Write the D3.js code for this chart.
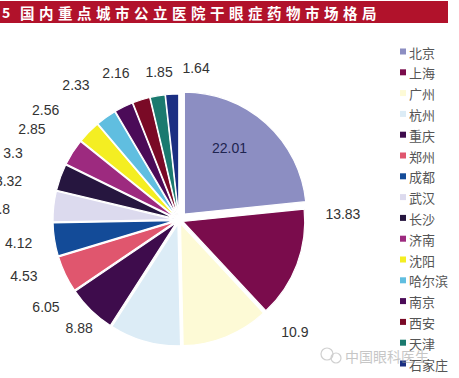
<!DOCTYPE html>
<html><head><meta charset="utf-8">
<script src="https://cdn.jsdelivr.net/npm/d3@7"></script>
<style>
html,body{margin:0;padding:0;background:#fff;}
svg{display:block;}
</style></head>
<body>
<script>
// ---- data ----
const cities = ["北京","上海","广州","杭州","重庆","郑州","成都","武汉","长沙","济南","沈阳","哈尔滨","南京","西安","天津","石家庄"];
const shares = [22.01,13.83,10.9,8.88,6.05,4.53,4.12,3.8,3.32,3.3,2.85,2.56,2.33,2.16,1.85,1.64];
const colors = ["#8c8ec2","#7a0c4c","#fdfad6","#dcecf6","#3e0c4c","#e0566e","#134b98","#dcdaee","#26163f","#9d2a7f","#f4ee22","#60bee0","#4b0b58","#7a0a26","#1b7a6f","#1b2f82"];
const titleText = "国内重点城市公立医院干眼症药物市场格局";
// label layout (angle in degrees clockwise from 12 o'clock, distance from centre)
const labelAngle = [35,88,134,222.8,236.8,250,261.8,273.5,283,292,301.8,309.6,322.7,336.8,352.3,366.4];
const labelDist  = [88,164,161,147,159,165,162,179,175,179,173,173,170,160,149,153];

const W = 459, H = 378;
const cx = 179, cy = 220, R = 122;

const svg = d3.select("body").append("svg").attr("width", W).attr("height", H);

// title band
svg.append("rect").attr("x",0).attr("y",1).attr("width",448).attr("height",22).attr("fill","#b1122b");
svg.append("text").attr("x",2).attr("y",12).attr("dominant-baseline","central")
  .attr("fill","#fff").attr("font-family","'Noto Sans CJK SC',sans-serif").attr("font-weight","bold")
  .attr("font-size",14).text("5");
svg.append("text").attr("x",20).attr("y",12).attr("dominant-baseline","central")
  .attr("fill","#fff").attr("font-family","'Noto Sans CJK SC',sans-serif").attr("font-weight","bold")
  .attr("font-size",14.5).attr("letter-spacing","4.5px").text(titleText);

// pie
const data = cities.map((c,i)=>({city:c, value:shares[i], color:colors[i]}));
const pie = d3.pie().value(d=>d.value).sort(null);
const arcs = pie(data);
const arc = d3.arc().innerRadius(0).outerRadius(R);
const g = svg.append("g").attr("transform",`translate(${cx},${cy})`);
g.selectAll("path").data(arcs).join("path")
  .attr("d", arc)
  .attr("fill", d=>d.data.color)
  .attr("stroke","#fff").attr("stroke-width",1.2)
  .attr("transform", (d,i)=>{
    const a = (d.startAngle+d.endAngle)/2;
    const off = i===0 ? 8 : 4;
    return `translate(${Math.sin(a)*off},${-Math.cos(a)*off})`;
  });

// labels
g.selectAll("text.lbl").data(arcs).join("text").attr("class","lbl")
  .attr("x",(d,i)=>Math.sin(labelAngle[i]*Math.PI/180)*labelDist[i])
  .attr("y",(d,i)=>-Math.cos(labelAngle[i]*Math.PI/180)*labelDist[i])
  .attr("text-anchor","middle").attr("dominant-baseline","central")
  .attr("font-family","'Liberation Sans',Arial,sans-serif").attr("font-size",14)
  .attr("fill",(d,i)=> i===0 ? "#1e2450" : "#333")
  .text(d=>String(d.data.value));

// legend
const lg = svg.append("g");
const rowH = 20.8, ly0 = 52;
data.forEach((d,i)=>{
  const y = ly0 + i*rowH;
  lg.append("rect").attr("x",400).attr("y",y-3.5).attr("width",6).attr("height",6).attr("fill",d.color);
  lg.append("text").attr("x",409).attr("y",y).attr("dominant-baseline","central")
    .attr("font-family","'Noto Sans CJK SC',sans-serif").attr("font-size",13).attr("fill","#555")
    .text(d.city);
});

// watermark
const wm = svg.append("g").attr("opacity",0.55);
wm.append("circle").attr("cx",327).attr("cy",354).attr("r",6).attr("fill","none").attr("stroke","#aaa").attr("stroke-width",1.2);
wm.append("circle").attr("cx",336).attr("cy",358).attr("r",5).attr("fill","none").attr("stroke","#aaa").attr("stroke-width",1.2);
wm.append("text").attr("x",345).attr("y",356).attr("dominant-baseline","central")
  .attr("font-family","'Noto Sans CJK SC',sans-serif").attr("font-size",14).attr("fill","#999")
  .text("中国眼科医生");
</script>
</body></html>
